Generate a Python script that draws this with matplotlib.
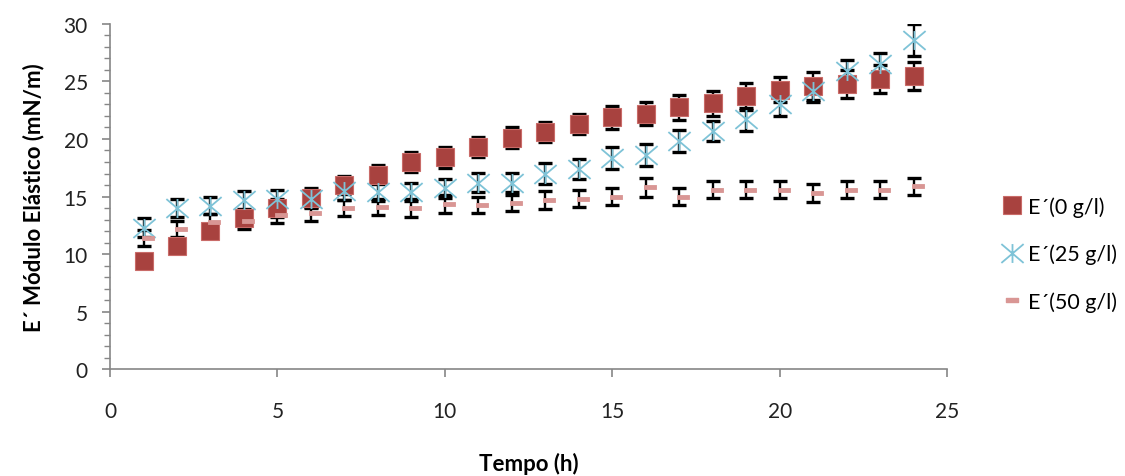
import matplotlib
matplotlib.use("Agg")
import matplotlib.pyplot as plt
from matplotlib.path import Path
from matplotlib.lines import Line2D
from matplotlib.transforms import ScaledTranslation

plt.rcParams['font.family'] = ['Lato', 'DejaVu Sans']

tempo = list(range(1, 25))
e0 = [9.4, 10.7, 12.0, 13.1, 14.0, 14.9, 16.0, 16.9, 18.0, 18.4, 19.3, 20.1, 20.6, 21.3,
      21.9, 22.2, 22.75, 23.1, 23.7, 24.3, 24.6, 24.8, 25.2, 25.5]
e0_err = [0.6, 0.6, 0.6, 0.7, 0.8, 0.8, 0.8, 0.8, 0.9, 0.9, 0.9, 0.9, 0.9, 0.9,
          1.0, 1.0, 1.1, 1.1, 1.2, 1.1, 1.2, 1.2, 1.2, 1.2]
e25 = [12.3, 14.0, 14.2, 14.7, 14.8, 14.8, 15.5, 15.4, 15.4, 15.7, 16.2, 16.2, 17.0, 17.4,
       18.35, 18.6, 19.8, 20.7, 21.7, 23.0, 24.2, 25.9, 26.5, 28.6]
e25_err = [0.8, 0.75, 0.75, 0.8, 0.8, 0.8, 0.8, 0.8, 0.8, 0.8, 0.85, 0.85, 0.9, 0.9,
           0.95, 0.95, 0.95, 0.9, 1.0, 1.0, 1.0, 1.0, 1.0, 1.4]
e50 = [11.4, 12.2, 12.8, 12.9, 13.4, 13.6, 14.0, 14.1, 14.0, 14.35, 14.3, 14.4, 14.7, 14.8,
       15.0, 15.8, 15.0, 15.6, 15.6, 15.6, 15.3, 15.6, 15.6, 15.9]
e50_err = [0.7, 0.7, 0.7, 0.7, 0.7, 0.7, 0.7, 0.7, 0.8, 0.8, 0.7, 0.7, 0.75, 0.75,
           0.75, 0.8, 0.75, 0.75, 0.75, 0.75, 0.75, 0.75, 0.75, 0.75]

labels = ["E´(0 g/l)", "E´(25 g/l)", "E´(50 g/l)"]
c0 = '#A8423F'
c25 = '#7EC3D7'
c50 = '#D99694'

star = Path([(-1, -0.85), (1, 0.85), (-1, 0.85), (1, -0.85), (0, -0.85), (0, 0.85)],
            [Path.MOVETO, Path.LINETO, Path.MOVETO, Path.LINETO, Path.MOVETO, Path.LINETO])
dash = Path([(-1, -0.3), (1, -0.3), (1, 0.3), (-1, 0.3), (-1, -0.3)],
            [Path.MOVETO, Path.LINETO, Path.LINETO, Path.LINETO, Path.CLOSEPOLY])

fig = plt.figure(figsize=(11.25, 4.77), dpi=100)
ax = fig.add_axes([0.0978, 0.2243, 0.7440, 0.7233])

ebkw = dict(fmt='none', ecolor='black', elinewidth=1.7, capsize=4.7, capthick=2.4, zorder=2)

ax.errorbar(tempo, e0, yerr=e0_err, **ebkw)
ax.errorbar(tempo, e25, yerr=e25_err, **ebkw)
ax.errorbar(tempo, e50, yerr=e50_err, **ebkw)
ax.plot(tempo, e0, linestyle='none', marker='s', markersize=13.5, markerfacecolor=c0,
        markeredgecolor='#C96B68', markeredgewidth=0.8, zorder=3)
ax.plot(tempo, e25, linestyle='none', marker=star, markersize=16, markerfacecolor='none',
        markeredgecolor=c25, markeredgewidth=1.3, zorder=4)
off = ax.transData + ScaledTranslation(4 / 100, 0, fig.dpi_scale_trans)
ax.plot(tempo, e50, linestyle='none', marker=dash, markersize=8, markerfacecolor=c50,
        markeredgecolor=c50, markeredgewidth=0.6, zorder=4, transform=off)

ax.set_xlim(0, 25)
ax.set_ylim(0, 30)
ax.set_xticks(range(0, 26, 5))
ax.set_yticks(range(0, 31, 5))
ax.set_yticks(range(0, 31, 1), minor=True)

for s in ['top', 'right']:
    ax.spines[s].set_visible(False)
for s in ['left', 'bottom']:
    ax.spines[s].set_color('#868686')
    ax.spines[s].set_linewidth(1.2)
ax.tick_params(axis='both', which='major', direction='out', length=6, width=1.2,
               color='#868686', labelsize=15, labelcolor='#222222')
ax.tick_params(axis='y', which='minor', direction='out', length=4, width=1.0, color='#868686')
ax.tick_params(axis='x', pad=17)
ax.tick_params(axis='y', pad=10)

ax.set_xlabel('Tempo (h)', fontsize=16, fontweight='bold', labelpad=22)
ax.set_ylabel('E´ Módulo Elástico (mN/m)', fontsize=16, fontweight='bold', labelpad=14)

handles = [
    Line2D([], [], linestyle='none', marker='s', markersize=13.5, markerfacecolor=c0,
           markeredgecolor='#C96B68', markeredgewidth=0.8),
    Line2D([], [], linestyle='none', marker=star, markersize=16, markerfacecolor='none',
           markeredgecolor=c25, markeredgewidth=1.3),
    Line2D([], [], linestyle='none', marker=dash, markersize=8, markerfacecolor=c50,
           markeredgecolor=c50),
]
fig.legend(handles, labels, loc='center left', bbox_to_anchor=(0.874, 0.465), frameon=False,
           fontsize=15.5, handlelength=0.9, handletextpad=0.3, labelspacing=1.25)

fig.savefig('out.png', dpi=100)
